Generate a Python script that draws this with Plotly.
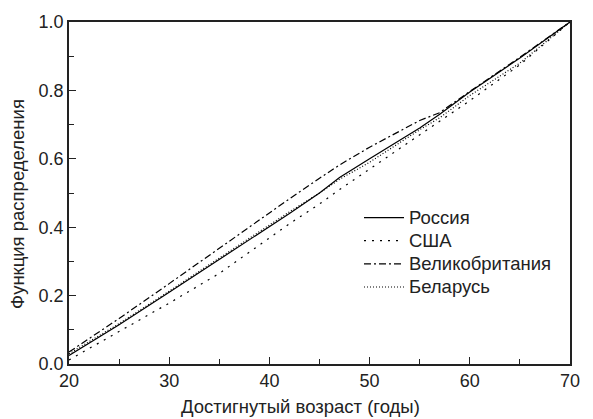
import plotly.graph_objects as go

ages = [20, 25, 30, 35, 40, 42, 45, 47, 50, 55, 57, 60, 65, 70]
russia = [0.025, 0.115, 0.21, 0.305, 0.40, 0.44, 0.50, 0.545, 0.60, 0.69, 0.73, 0.795, 0.895, 1.0]
usa = [0.012, 0.095, 0.178, 0.265, 0.37, 0.41, 0.468, 0.51, 0.57, 0.67, 0.71, 0.77, 0.875, 1.0]
uk = [0.035, 0.133, 0.235, 0.338, 0.443, 0.483, 0.543, 0.582, 0.634, 0.712, 0.735, 0.797, 0.897, 1.0]
belarus = [0.03, 0.118, 0.213, 0.31, 0.405, 0.445, 0.50, 0.54, 0.59, 0.685, 0.72, 0.785, 0.88, 1.0]

series = [
    ("Россия", russia, "solid"),
    ("США", usa, "2px,6px"),
    ("Великобритания", uk, "7px,3px,2px,3px"),
    ("Беларусь", belarus, "1px,2px"),
]

FAM = "Liberation Sans, Arial, sans-serif"
TXT = "#222"

fig = go.Figure()
for name, vals, dash in series:
    fig.add_trace(go.Scatter(
        x=ages, y=vals, mode="lines",
        name=f'<span style="font-size:18.5px">{name}</span>',
        line=dict(color="black", width=1.2, dash=dash)))

tickfont = dict(family=FAM, size=18, color=TXT)
axis_common = dict(showline=True, linecolor="#222", linewidth=1.6, mirror=True,
                   ticks="inside", ticklen=7, tickwidth=1, tickcolor="#222",
                   showgrid=False, zeroline=False, tickfont=tickfont)
fig.update_xaxes(range=[20, 70], tick0=20, dtick=10,
                 minor=dict(ticks="inside", dtick=5, ticklen=5, tickcolor="#222"),
                 **axis_common)
fig.update_yaxes(range=[0, 1], tick0=0, dtick=0.2, tickformat=".1f",
                 minor=dict(ticks="inside", dtick=0.1, ticklen=5, tickcolor="#222"),
                 **axis_common)

fig.add_annotation(text="Достигнутый возраст (годы)", xref="paper", yref="paper",
                   x=(300 - 69) / 501, y=-(407 - 364) / 344, showarrow=False,
                   xanchor="center", yanchor="middle", borderpad=0,
                   font=dict(family=FAM, size=18.5, color=TXT))
fig.add_annotation(text="Функция распределения", xref="paper", yref="paper",
                   x=-(69 - 18) / 501, y=(364 - 203) / 344, showarrow=False,
                   textangle=-90, xanchor="center", yanchor="middle", borderpad=0,
                   font=dict(family=FAM, size=18.5, color=TXT))

fig.update_layout(
    width=593, height=419,
    margin=dict(l=69, r=23, t=20, b=55),
    paper_bgcolor="white", plot_bgcolor="white",
    font=dict(family=FAM, size=18, color=TXT),
    legend=dict(x=(359 - 69) / 501, y=(364 - 200) / 344, xanchor="left", yanchor="top",
                bgcolor="rgba(0,0,0,0)", font=dict(size=15.5, family=FAM, color=TXT),
                tracegroupgap=0, itemwidth=40),
)
fig.write_html("out.html")
